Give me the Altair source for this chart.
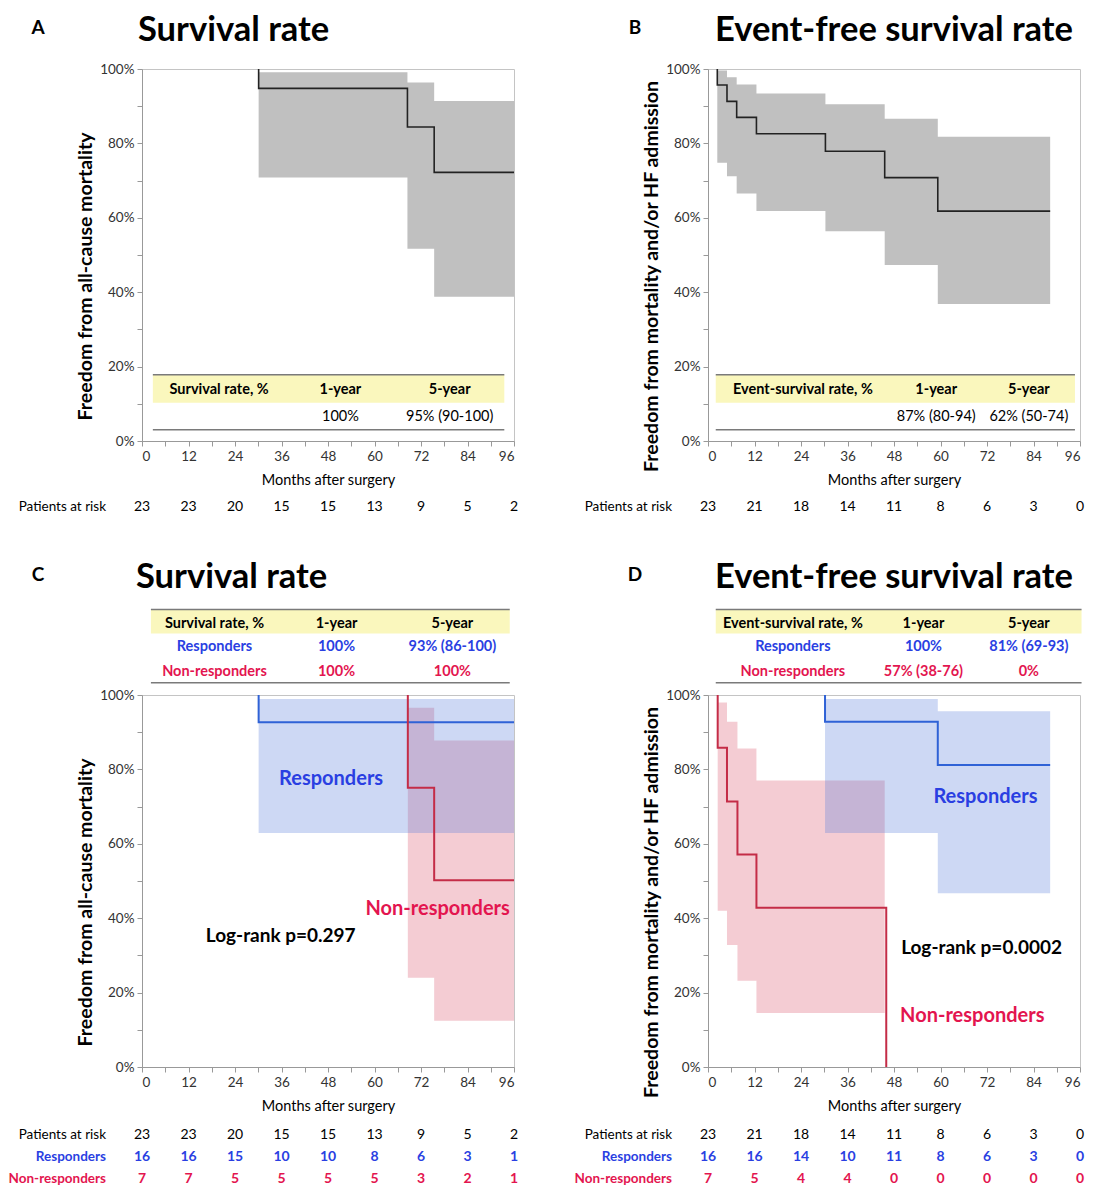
import altair as alt
import pandas as pd

## Kaplan-Meier steps: months after surgery, % event-free
## A: all-cause survival, whole cohort
a_time = [30.1, 30.1, 68.5, 75.4, 96]
a_surv = [100, 94.8, 84.4, 72.2, 72.2]
a_ci_time = [30.1, 68.5, 75.4, 96]
a_ci_low = [70.8, 51.7, 38.8, 38.8]
a_ci_high = [99.1, 96.4, 91.4, 91.4]

## B: event-free survival, whole cohort
b_time = [2.4, 2.4, 4.9, 7.4, 12.5, 30.3, 45.6, 59.3, 88.3]
b_surv = [100, 95.7, 91.3, 87.0, 82.6, 77.9, 70.8, 61.8, 61.8]
b_ci_time = [2.4, 4.9, 7.4, 12.5, 30.3, 45.6, 59.3, 88.3]
b_ci_low = [74.8, 71.2, 66.5, 61.8, 56.4, 47.3, 36.8, 36.8]
b_ci_high = [99.6, 97.8, 95.8, 93.4, 90.5, 86.6, 81.8, 81.8]

## C: survival by group
c_resp_time = [30.1, 30.1, 96]
c_resp_surv = [100, 92.7, 92.7]
c_resp_ci_time = [30.1, 96]
c_resp_ci_low = [62.9, 62.9]
c_resp_ci_high = [98.9, 98.9]
c_non_time = [68.6, 68.6, 75.4, 96]
c_non_surv = [100, 75.1, 50.2, 50.2]
c_non_ci_time = [68.6, 75.4, 96]
c_non_ci_low = [24.0, 12.4, 12.4]
c_non_ci_high = [96.6, 87.8, 87.8]

## D: event-free survival by group
d_resp_time = [30.2, 30.2, 59.3, 88.3]
d_resp_surv = [100, 92.8, 81.2, 81.2]
d_resp_ci_time = [30.2, 59.3, 88.3]
d_resp_ci_low = [62.9, 46.7, 46.7]
d_resp_ci_high = [98.9, 95.6, 95.6]
d_non_time = [2.5, 2.5, 4.9, 7.6, 12.5, 46.0]
d_non_surv = [100, 85.8, 71.4, 57.1, 42.8, 0]
d_non_ci_time = [2.5, 4.9, 7.6, 12.5, 45.6]
d_non_ci_low = [42.0, 32.8, 23.2, 14.5, 14.5]
d_non_ci_high = [98.0, 92.8, 85.6, 77.0, 77.0]

## numbers at risk
risk_months = [0, 12, 24, 36, 48, 60, 72, 84, 96]
surv_risk_all = [23, 23, 20, 15, 15, 13, 9, 5, 2]
surv_risk_resp = [16, 16, 15, 10, 10, 8, 6, 3, 1]
surv_risk_non = [7, 7, 5, 5, 5, 5, 3, 2, 1]
efs_risk_all = [23, 21, 18, 14, 11, 8, 6, 3, 0]
efs_risk_resp = [16, 16, 14, 10, 11, 8, 6, 3, 0]
efs_risk_non = [7, 5, 4, 4, 0, 0, 0, 0, 0]

## rate tables
a_head = ["Survival rate, %", "1-year", "5-year"]
a_vals = ["", "100%", "95% (90-100)"]
b_head = ["Event-survival rate, %", "1-year", "5-year"]
b_vals = ["", "87% (80-94)", "62% (50-74)"]
c_resp = ["Responders", "100%", "93% (86-100)"]
c_non = ["Non-responders", "100%", "100%"]
d_resp = ["Responders", "100%", "81% (69-93)"]
d_non = ["Non-responders", "57% (38-76)", "0%"]

FONT = "Lato"
W, H = 372, 372
BLUE_TXT = "#2a3fe2"
RED_TXT = "#e3154f"
YELLOW = "#faf7bd"
Y_A = "Freedom from all-cause mortality"
Y_B = "Freedom from mortality and/or HF admission"


def X(field):
    return alt.X(f"{field}:Q", title="Months after surgery",
                 scale=alt.Scale(domain=[0, 96], nice=False),
                 axis=alt.Axis(values=list(range(0, 97, 6)),
                               labelExpr="datum.value % 12 == 0 ? datum.label : ''"))


def Y(field, title):
    return alt.Y(f"{field}:Q", title=title,
                 scale=alt.Scale(domain=[0, 100], nice=False),
                 axis=alt.Axis(values=list(range(0, 101, 10)), titleY=H / 2 + 21,
                               labelExpr="datum.value % 20 == 0 ? datum.value + '%' : ''"))


def band(t, lo, hi, color, opacity, yt):
    df = pd.DataFrame({"t": t, "lo": lo, "hi": hi})
    return alt.Chart(df).mark_area(interpolate="step-after", color=color, opacity=opacity).encode(
        x=X("t"), y=Y("lo", yt), y2="hi")


def curve(t, s, color, width, yt):
    df = pd.DataFrame({"t": t, "s": s, "i": list(range(len(t)))})
    return alt.Chart(df).mark_line(interpolate="step-after", color=color, strokeWidth=width).encode(
        x=X("t"), y=Y("s", yt), order="i:Q")


def label(text, x, y, color, size, yt):
    df = pd.DataFrame({"x": [x], "y": [y], "t": [text]})
    return alt.Chart(df).mark_text(fontSize=size, fontWeight="bold", color=color).encode(
        x=X("x"), y=Y("y", yt), text="t")


def table(rows, cols, x0, x1, y_top, y_band, y_bot, yt):
    rect = alt.Chart(pd.DataFrame({"x": [x0], "x2": [x1], "y": [y_band], "y2": [y_top]})).mark_rect(
        color=YELLOW).encode(x=X("x"), x2="x2", y=Y("y", yt), y2="y2")
    rules = alt.Chart(pd.DataFrame({"x": [x0, x0], "x2": [x1, x1], "y": [y_top, y_bot]})).mark_rule(
        color="#7a7a7a", strokeWidth=1.5).encode(x=X("x"), x2="x2", y=Y("y", yt))
    out = [rect, rules]
    for texts, ypos, color, weight in rows:
        df = pd.DataFrame({"x": cols, "y": [ypos] * len(cols), "t": texts})
        out.append(alt.Chart(df).mark_text(fontSize=14.5, fontWeight=weight, color=color).encode(
            x=X("x"), y=Y("y", yt), text="t"))
    return out


def at_risk(rows, yt):
    out = []
    for k, (name, counts, color, weight) in enumerate(rows):
        dy = H + (66 if len(rows) == 1 else 68 + 22 * k)
        df = pd.DataFrame({"x": risk_months, "n": counts})
        out.append(alt.Chart(df).mark_text(fontSize=14, fontWeight=weight, color=color).encode(
            x=X("x"), y=alt.value(dy), text="n:Q"))
        out.append(alt.Chart(pd.DataFrame({"t": [name]})).mark_text(
            fontSize=13.5, fontWeight=weight, color=color, align="right").encode(
            x=alt.value(-36), y=alt.value(dy), text="t"))
    return out


def heading(letter, title, dx_letter, dx_title, dy):
    t = alt.Chart(pd.DataFrame({"t": [title]})).mark_text(
        fontSize=34.5, fontWeight="bold", align="left", baseline="alphabetic", color="black").encode(
        x=alt.value(dx_title), y=alt.value(dy), text="t")
    l = alt.Chart(pd.DataFrame({"t": [letter]})).mark_text(
        fontSize=19, fontWeight="bold", baseline="alphabetic", color="black").encode(
        x=alt.value(dx_letter), y=alt.value(dy - 7), text="t")
    return [t, l]


## panel A
pA = alt.layer(
    band(a_ci_time, a_ci_low, a_ci_high, "#c0c0c0", 1, Y_A),
    curve(a_time, a_surv, "#222222", 1.6, Y_A),
    *table([(a_head, 13.7, "black", "bold"), (a_vals, 6.4, "black", "normal")],
           [19.9, 51.2, 79.4], 2.8, 93.5, 17.8, 10.3, 3.0, Y_A),
    *at_risk([("Patients at risk", surv_risk_all, "black", "normal")], Y_A),
    *heading("A", "Survival rate", -104, -4, -28),
).properties(width=W, height=H)

## panel B
pB = alt.layer(
    band(b_ci_time, b_ci_low, b_ci_high, "#c0c0c0", 1, Y_B),
    curve(b_time, b_surv, "#222222", 1.6, Y_B),
    *table([(b_head, 13.7, "black", "bold"), (b_vals, 6.4, "black", "normal")],
           [24.5, 58.9, 82.8], 2.0, 94.7, 17.8, 10.3, 3.0, Y_B),
    *at_risk([("Patients at risk", efs_risk_all, "black", "normal")], Y_B),
    *heading("B", "Event-free survival rate", -73, 7, -28),
).properties(width=W, height=H)

## panel C
pC = alt.layer(
    band(c_non_ci_time, c_non_ci_low, c_non_ci_high, "#da556c", 0.3, Y_A),
    band(c_resp_ci_time, c_resp_ci_low, c_resp_ci_high, "#587dda", 0.3, Y_A),
    curve(c_resp_time, c_resp_surv, "#2f62d6", 2, Y_A),
    curve(c_non_time, c_non_surv, "#c42c47", 2, Y_A),
    label("Responders", 48.8, 77.4, BLUE_TXT, 20, Y_A),
    label("Non-responders", 76.3, 42.6, RED_TXT, 20, Y_A),
    label("Log-rank p=0.297", 35.8, 35.3, "black", 19, Y_A),
    *table([(a_head, 119.2, "black", "bold"), (c_resp, 112.8, BLUE_TXT, "bold"),
            (c_non, 106.3, RED_TXT, "bold")],
           [18.7, 50.2, 80.1], 2.3, 94.9, 123.0, 116.5, 103.3, Y_A),
    *at_risk([("Patients at risk", surv_risk_all, "black", "normal"),
              ("Responders", surv_risk_resp, BLUE_TXT, "bold"),
              ("Non-responders", surv_risk_non, RED_TXT, "bold")], Y_A),
    *heading("C", "Survival rate", -104, -6, -107),
).properties(width=W, height=H)

## panel D
pD = alt.layer(
    band(d_non_ci_time, d_non_ci_low, d_non_ci_high, "#da556c", 0.3, Y_B),
    band(d_resp_ci_time, d_resp_ci_low, d_resp_ci_high, "#587dda", 0.3, Y_B),
    curve(d_resp_time, d_resp_surv, "#2f62d6", 2, Y_B),
    curve(d_non_time, d_non_surv, "#c42c47", 2, Y_B),
    label("Responders", 71.6, 72.7, BLUE_TXT, 20, Y_B),
    label("Non-responders", 68.2, 13.6, RED_TXT, 20, Y_B),
    label("Log-rank p=0.0002", 70.6, 32.0, "black", 19, Y_B),
    *table([(b_head, 119.2, "black", "bold"), (d_resp, 112.8, BLUE_TXT, "bold"),
            (d_non, 106.3, RED_TXT, "bold")],
           [21.9, 55.6, 82.8], 2.0, 96.4, 123.0, 116.5, 103.3, Y_B),
    *at_risk([("Patients at risk", efs_risk_all, "black", "normal"),
              ("Responders", efs_risk_resp, BLUE_TXT, "bold"),
              ("Non-responders", efs_risk_non, RED_TXT, "bold")], Y_B),
    *heading("D", "Event-free survival rate", -73, 7, -107),
).properties(width=W, height=H)

chart = alt.concat(
    pA, pB, pC, pD, columns=2, bounds="flush",
    spacing={"row": 254, "column": 194},
).properties(
    padding={"left": 0, "top": 4, "right": 0, "bottom": 0}
).configure_view(
    stroke="#c4c4c4", strokeWidth=1
).configure_axis(
    grid=False, domainColor="#999999", tickColor="#999999", tickSize=5,
    labelFont=FONT, titleFont=FONT, labelFontSize=13.5, labelColor="#333333",
    titleColor="black", labelPadding=3
).configure_axisX(
    titleFontSize=14.5, titleFontWeight="normal", titlePadding=11
).configure_axisY(
    titleFontSize=19.5, titleFontWeight="bold", titlePadding=4
).configure_text(
    font=FONT
)

chart.save("out.html", embed_options={"renderer": "svg", "actions": False})
